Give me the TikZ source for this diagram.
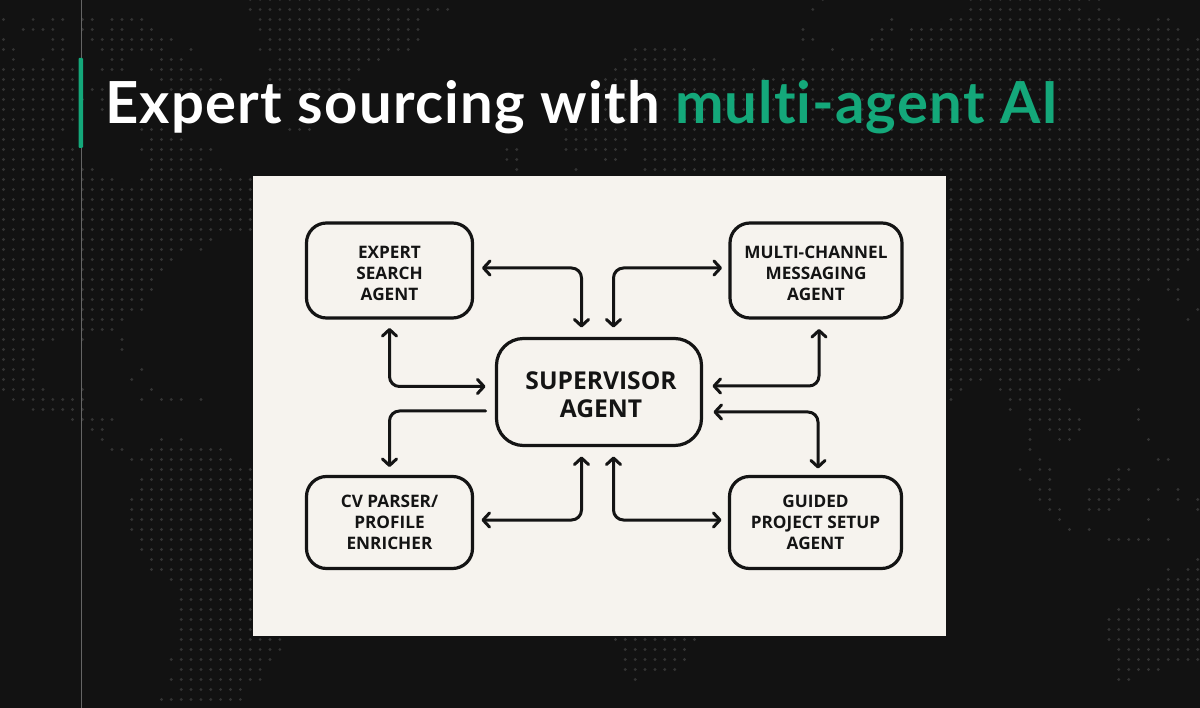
\documentclass[tikz,border=0pt]{standalone}
\usepackage{fontspec}
\setmainfont{Open Sans}
\newfontfamily\titlefont[LetterSpace=2.2]{Lato}
\usetikzlibrary{arrows.meta,calc}
\definecolor{bgdark}{HTML}{121212}
\definecolor{dotc}{HTML}{333333}
\definecolor{paneln}{HTML}{F6F3EE}
\definecolor{greenc}{HTML}{14A87A}
\definecolor{inkc}{HTML}{141414}
\tikzset{
  agent/.style={draw=inkc,line width=3.2pt,rounded corners=20pt,outer sep=0pt,inner sep=0pt,align=center,text=inkc,font=\bfseries\fontsize{17.2}{20.8}\selectfont},
  superv/.style={agent,rounded corners=27pt,font=\bfseries\fontsize{24.6}{28}\selectfont},
  link/.style={draw=inkc,line width=3pt,rounded corners=10pt,line cap=round},
  both/.style={link,{Straight Barb[length=6.5pt,width=14pt,round]}-{Straight Barb[length=6.5pt,width=14pt,round]}},
  onehead/.style={link,-{Straight Barb[length=6.5pt,width=14pt,round]}},
  bgdot/.style={fill=dotc,draw=none}
}
\newcommand\rw[2]{\foreach \a/\b in {#2}{\foreach \c in {\a,...,\b}{\fill[bgdot] ({3.5+9.87*\c},{10*#1-0.5}) circle (1.6);}}}
\newcommand\lowtxt[2]{\raisebox{-#1}[\height][\depth]{\begin{tabular}{@{}c@{}}#2\end{tabular}}}
\begin{document}
\begin{tikzpicture}[x=1pt,y=-1pt]
\useasboundingbox (0,0) rectangle (1200,708);
\fill[bgdark] (0,0) rectangle (1200,708);
\rw{0}{25/37,83,98/111}
\rw{1}{25/45,82,98/109,111}
\rw{2}{0,3,5/6,8/9,11/14,26/42,90,96/107,109/113,117/118}
\rw{3}{2/5,8/9,11/12,14/15,26/42,81,89/90,92/119}
\rw{4}{0,5/6,9/17,27/42,81/82,88/89,92/119,121}
\rw{5}{0/1,5/6,10/16,19,26/41,64/69,84,88/90,92/121}
\rw{6}{1,4,6,11/12,16/18,28/38,63/72,81,85/87,89/90,92/121}
\rw{7}{0/7,10/12,15,16/20,27/36,62/74,76,79/121}
\rw{8}{0/7,16/22,27/35,61/121}
\rw{9}{0/7,9/10,17/21,28/34,61/121}
\rw{10}{0/8,10,61/121}
\rw{11}{0/7,10,60/121}
\rw{12}{0/7,60/121}
\rw{13}{0/6,14/16,29/31,57/63,65/121}
\rw{14}{0/5,15/18,57/63,65/121}
\rw{15}{0/7,14/21,51/52,57/63,65/121}
\rw{16}{0/7,15/20,51/52,61/62,65/121}
\rw{17}{0/9,15/22,52,58,65/121}
\rw{18}{0/11,14/25,96/121}
\rw{19}{0/25,96/121}
\rw{20}{0/25,96/121}
\rw{21}{0/25,96/121}
\rw{22}{0/25,96/121}
\rw{23}{0/25,96/121}
\rw{24}{0/21,96/121}
\rw{25}{0/18,20,96/121}
\rw{26}{0/17,96/120}
\rw{27}{0/16,96/119}
\rw{28}{0/15,96/116,118}
\rw{29}{0/15,96/114,118/119}
\rw{30}{0/14,96/115,119}
\rw{31}{0/14,96/114,121}
\rw{32}{0/12,96/115,120}
\rw{33}{0/11,96/115}
\rw{34}{0/5,8,12,96/115}
\rw{35}{0/3,12,96/115}
\rw{36}{0/3,96/114}
\rw{37}{0/3,14,96/113,115}
\rw{38}{0/3,13,96/99,101/111}
\rw{39}{0/4,8,15,96/97,101/107}
\rw{40}{1/8,14,16/18,20,96,102/107}
\rw{41}{3/8,102,104/108,115}
\rw{42}{7/11,104/109,115}
\rw{43}{9/10,104,106/109}
\rw{44}{10,16,18,104,107/108,116}
\rw{45}{11/12,15/22,104}
\rw{46}{13/23,105,117/118}
\rw{47}{15/25,103,105/106,113/114}
\rw{48}{14/25,104,106,112/113}
\rw{49}{14/25,105/106,110/114,117,119}
\rw{50}{13/25,105/106,110/113,116,119,121}
\rw{51}{13/25,106/107,110/112,121}
\rw{52}{13/25,107,116}
\rw{53}{13/25,108,110}
\rw{54}{14/25,112/116,118}
\rw{55}{14/25}
\rw{56}{15/25,121}
\rw{57}{15/25,118,120/121}
\rw{58}{17/25,118/121}
\rw{59}{18/25,116/121}
\rw{60}{18/25,115/121}
\rw{61}{18/25,113/121}
\rw{62}{18/25,112/121}
\rw{63}{18/25,112/121}
\rw{64}{18/28,62/70,112/121}
\rw{65}{18/28,63/69,113/121}
\rw{66}{17/27,63/69,113/121}
\rw{67}{18/26,63/68,113/117}
\rw{68}{17/26,64,113/114}
\rw{69}{18/24}
\rw{70}{16/24}
\draw[draw=white!35!bgdark,line width=1pt] (81,0) -- (81,708);
\fill[greenc,rounded corners=1pt] (78.5,58) rectangle (83,148);
\node[anchor=base west,inner sep=0pt,text=white,font=\titlefont\bfseries\fontsize{58}{60}\selectfont] (title) at (105,123.5) {Expert sourcing with \textcolor{greenc}{mult\kern0pt i-agent AI}};
\fill[paneln] (253,176) rectangle (946,636);
\node[superv,minimum width=205pt,minimum height=107pt] (sup) at (599,392) {\hspace*{4pt}\lowtxt{6pt}{SUPERVISOR\\AGENT}};
\node[agent,minimum width=166pt,minimum height=95pt] (expert) at (389.5,270.5) {\lowtxt{5pt}{EXPERT\\SEARCH\\AGENT}};
\node[agent,minimum width=172pt,minimum height=95pt] (multi) at (816,270.5) {\lowtxt{5pt}{MULTI-CHANNEL\\MESSAGING\\AGENT}};
\node[agent,minimum width=166pt,minimum height=92pt] (cv) at (389.5,522.5) {\lowtxt{2pt}{CV PARSER/\\PROFILE\\ENRICHER}};
\node[agent,minimum width=172pt,minimum height=92pt] (guided) at (815.5,522.5) {\lowtxt{2pt}{GUIDED\\PROJECT SETUP\\AGENT}};
% connectors
\draw[both,shorten <=9.5pt,shorten >=11pt] ([yshift=2.5pt]expert.east) -| ([xshift=-17.5pt]sup.north);
\draw[both,shorten <=11pt,shorten >=8pt] ([xshift=14.5pt]sup.north) |- ([yshift=2.5pt]multi.west);
\draw[both,shorten <=10pt,shorten >=11pt] (expert.south) |- ([yshift=5.5pt]sup.west);
\draw[both,shorten <=11pt,shorten >=11pt] ([xshift=3pt]multi.south) |- ([yshift=6pt]sup.east);
\draw[both,shorten <=12pt,shorten >=8pt] ([yshift=-20pt]sup.east) -| ([xshift=2.5pt]guided.north);
\draw[onehead,shorten <=11pt,shorten >=9.5pt] ([yshift=-19pt]sup.west) -| (cv.north);
\draw[both,shorten <=9pt,shorten >=11pt] ([yshift=2.5pt]cv.east) -| ([xshift=-17.5pt]sup.south);
\draw[both,shorten <=11pt,shorten >=8pt] ([xshift=14.5pt]sup.south) |- ([yshift=2.5pt]guided.west);
\end{tikzpicture}
\end{document}
